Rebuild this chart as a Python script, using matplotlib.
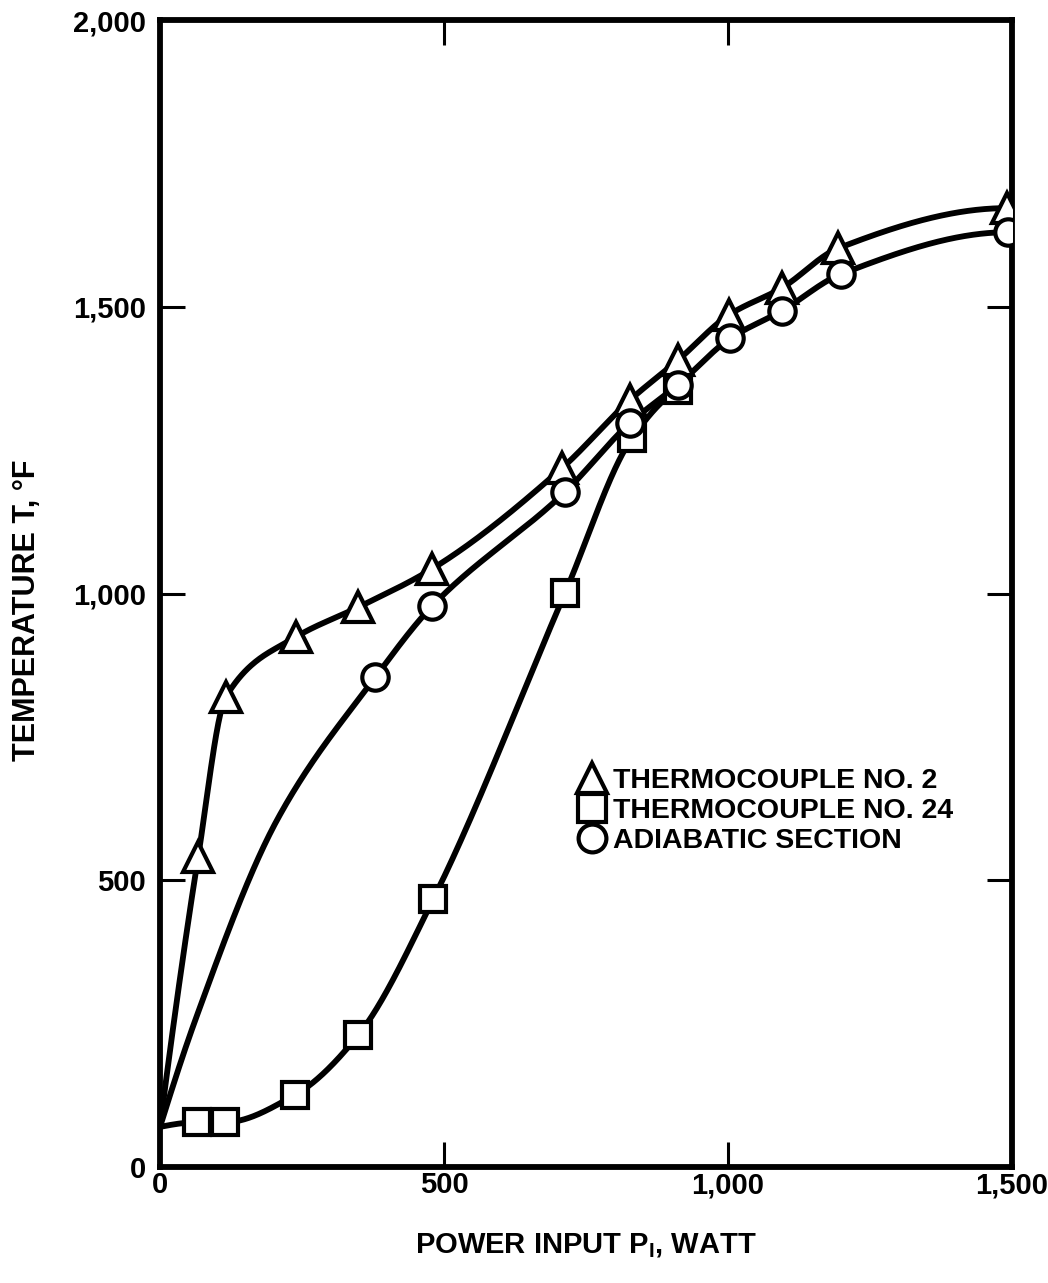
import numpy as np
import matplotlib
matplotlib.use('Agg')
import matplotlib.pyplot as plt
from matplotlib.lines import Line2D

plt.rcParams['font.family'] = ['Liberation Sans', 'DejaVu Sans']
plt.rcParams['font.weight'] = 'bold'
plt.rcParams['mathtext.fontset'] = 'custom'
plt.rcParams['mathtext.rm'] = 'Liberation Sans:bold'
plt.rcParams['mathtext.bf'] = 'Liberation Sans:bold'

# power input P (W) vs temperature T (F); runs start from the cold point at P = 0
tc2_p = [0, 67, 116, 239, 349, 479, 708, 827, 912, 1002, 1095, 1194, 1491]
tc2_t = [70, 540, 820, 924, 976, 1043, 1219, 1337, 1407, 1486, 1533, 1602, 1672]
tc2_marked = list(range(1, 13))

tc24_p = [0, 65, 114, 238, 349, 481, 713, 831, 912]
tc24_t = [70, 78, 78, 126, 230, 467, 1001, 1271, 1355]
tc24_marked = list(range(1, 9))

adia_p = [0, 62, 206, 379, 479, 713, 827, 912, 1004, 1095, 1199, 1493]
adia_t = [70, 256, 605, 854, 978, 1177, 1297, 1364, 1445, 1493, 1557, 1630]
adia_marked = list(range(3, 12))

x_ticks = [0, 500, 1000, 1500]
x_labels = ['0', '500', '1,000', '1,500']
y_ticks = [0, 500, 1000, 1500, 2000]
y_labels = ['0', '500', '1,000', '1,500', '2,000']


def pchip(x, y, xs):
    # monotone cubic through the points, for a french-curve look
    x = np.asarray(x, float)
    y = np.asarray(y, float)
    h = np.diff(x)
    d = np.diff(y) / h
    m = np.zeros_like(x)
    for k in range(1, len(x) - 1):
        if d[k - 1] * d[k] > 0:
            w1 = 2 * h[k] + h[k - 1]
            w2 = h[k] + 2 * h[k - 1]
            m[k] = (w1 + w2) / (w1 / d[k - 1] + w2 / d[k])

    def end(h0, h1, d0, d1):
        s = ((2 * h0 + h1) * d0 - h0 * d1) / (h0 + h1)
        if np.sign(s) != np.sign(d0):
            s = 0.0
        elif np.sign(d0) != np.sign(d1) and abs(s) > abs(3 * d0):
            s = 3 * d0
        return s

    m[0] = end(h[0], h[1], d[0], d[1])
    m[-1] = end(h[-1], h[-2], d[-1], d[-2])
    i = np.clip(np.searchsorted(x, xs) - 1, 0, len(h) - 1)
    t = (xs - x[i]) / h[i]
    h00 = 2 * t**3 - 3 * t**2 + 1
    h10 = t**3 - 2 * t**2 + t
    h01 = -2 * t**3 + 3 * t**2
    h11 = t**3 - t**2
    return h00 * y[i] + h10 * h[i] * m[i] + h01 * y[i + 1] + h11 * h[i] * m[i + 1]


fig = plt.figure(figsize=(10.48, 12.83), dpi=100)
ax = fig.add_axes([0.1527, 0.0904, 0.813, 0.894])

series = [
    (tc24_p, tc24_t, tc24_marked, 's', 19),
    (tc2_p, tc2_t, tc2_marked, '^', 21),
    (adia_p, adia_t, adia_marked, 'o', 19),
]
for p, t, marked, mk, ms in series:
    xs = np.linspace(p[0], p[-1], 800)
    ax.plot(xs, pchip(p, t, xs), color='black', lw=4.2, solid_capstyle='round', zorder=2)
    ax.plot(np.array(p)[marked], np.array(t)[marked], ls='none', marker=mk, ms=ms,
            mfc='white', mec='black', mew=3.0, zorder=3)

ax.set_xlim(0, 1500)
ax.set_ylim(0, 2000)
ax.set_xticks(x_ticks)
ax.set_xticklabels(x_labels)
ax.set_yticks(y_ticks)
ax.set_yticklabels(y_labels)
ax.tick_params(direction='in', length=18, width=2.2, labelsize=21,
               top=True, right=True)
ax.tick_params(axis='x', pad=3)
ax.tick_params(axis='y', pad=10)
for s in ax.spines.values():
    s.set_linewidth(4.2)

ax.set_xlabel('POWER INPUT P$_\\mathbf{I}$, WATT', fontsize=21, fontweight='bold', labelpad=23)
ax.set_ylabel('TEMPERATURE T, °F', fontsize=22, fontweight='bold')
ax.yaxis.set_label_coords(-0.138, 0.4856)

handles = [
    Line2D([], [], ls='none', marker='^', ms=22, mfc='white', mec='black', mew=3.0),
    Line2D([], [], ls='none', marker='s', ms=20, mfc='white', mec='black', mew=3.0),
    Line2D([], [], ls='none', marker='o', ms=20, mfc='white', mec='black', mew=3.0),
]
labels = ['THERMOCOUPLE NO. 2', 'THERMOCOUPLE NO. 24', 'ADIABATIC SECTION']
ax.legend(handles, labels, loc='upper left', bbox_to_anchor=(0.49, 0.348),
          frameon=False, fontsize=20.5, handlelength=1.0, handletextpad=0.25,
          labelspacing=0.14, borderpad=0, borderaxespad=0)

fig.savefig('out.png', dpi=100)
